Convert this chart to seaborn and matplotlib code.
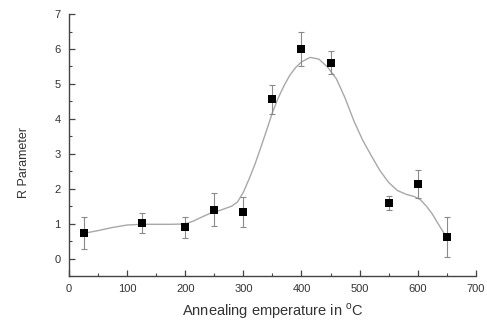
import matplotlib
matplotlib.use("Agg")
import matplotlib.pyplot as plt
import seaborn as sns
import pandas as pd
from matplotlib.ticker import MultipleLocator

# measured points
temps = [25, 125, 200, 250, 300, 350, 400, 450, 550, 600, 650]
r_vals = [0.72, 1.02, 0.89, 1.40, 1.33, 4.56, 6.00, 5.61, 1.59, 2.13, 0.62]
r_err = [0.46, 0.29, 0.30, 0.47, 0.44, 0.42, 0.50, 0.32, 0.20, 0.40, 0.58]

# fitted curve
curve_x = [25, 50, 75, 100, 125, 150, 175, 200, 215, 230, 245, 260, 270, 280,
           290, 300, 310, 320, 330, 340, 350, 360, 370, 380, 390, 400, 415,
           430, 445, 460, 475, 490, 505, 520, 535, 550, 565, 580, 595, 605,
           615, 625, 635, 650]
curve_y = [0.72, 0.80, 0.89, 0.96, 0.98, 0.98, 0.98, 0.99, 1.08, 1.20, 1.31,
           1.38, 1.44, 1.50, 1.62, 1.90, 2.28, 2.70, 3.18, 3.67, 4.18, 4.60,
           4.95, 5.25, 5.47, 5.63, 5.76, 5.71, 5.48, 5.15, 4.60, 3.95, 3.40,
           2.95, 2.52, 2.18, 1.95, 1.84, 1.77, 1.68, 1.50, 1.28, 1.00, 0.60]

x_ticks = [0, 100, 200, 300, 400, 500, 600, 700]
y_ticks = [0, 1, 2, 3, 4, 5, 6, 7]

sns.set_style("ticks")
plt.rcParams['font.family'] = ['Liberation Sans', 'DejaVu Sans']

fig = plt.figure(figsize=(4.87, 3.2), dpi=100)
ax = fig.add_axes([0.1417, 0.1375, 0.8353, 0.8185])

pts = pd.DataFrame({"T": temps, "R": r_vals})
crv = pd.DataFrame({"T": curve_x, "R": curve_y})

sns.lineplot(data=crv, x="T", y="R", ax=ax, color="#a8a8a8", linewidth=1.0,
             sort=False, zorder=2)
ax.errorbar(temps, r_vals, yerr=r_err, fmt="none", ecolor="#8a8a8a",
            elinewidth=0.8, capsize=2.5, capthick=0.8, zorder=3)
sns.scatterplot(data=pts, x="T", y="R", ax=ax, marker="s", color="black",
                s=30, edgecolor="black", linewidth=0, zorder=4)

ax.set_xlim(0, 700)
ax.set_ylim(-0.5, 7)
ax.set_xticks(x_ticks)
ax.set_yticks(y_ticks)
ax.xaxis.set_minor_locator(MultipleLocator(50))
ax.yaxis.set_minor_locator(MultipleLocator(0.5))
ax.tick_params(which="major", direction="in", length=4, width=0.9,
               color="#444444", labelsize=8, labelcolor="#333333", pad=6)
ax.tick_params(which="minor", direction="in", length=2.5, width=0.8,
               color="#444444")
for side in ["top", "right"]:
    ax.spines[side].set_visible(False)
for side in ["left", "bottom"]:
    ax.spines[side].set_color("#444444")
    ax.spines[side].set_linewidth(1.0)

ax.set_xlabel("Annealing emperature in $^{\\mathregular{o}}$C", fontsize=10.5,
              color="#333333", labelpad=5)
ax.set_ylabel("R Parameter", fontsize=9, color="#333333")
ax.yaxis.set_label_coords(-0.095, 0.435)

fig.savefig("out.png", dpi=100, facecolor="white")
